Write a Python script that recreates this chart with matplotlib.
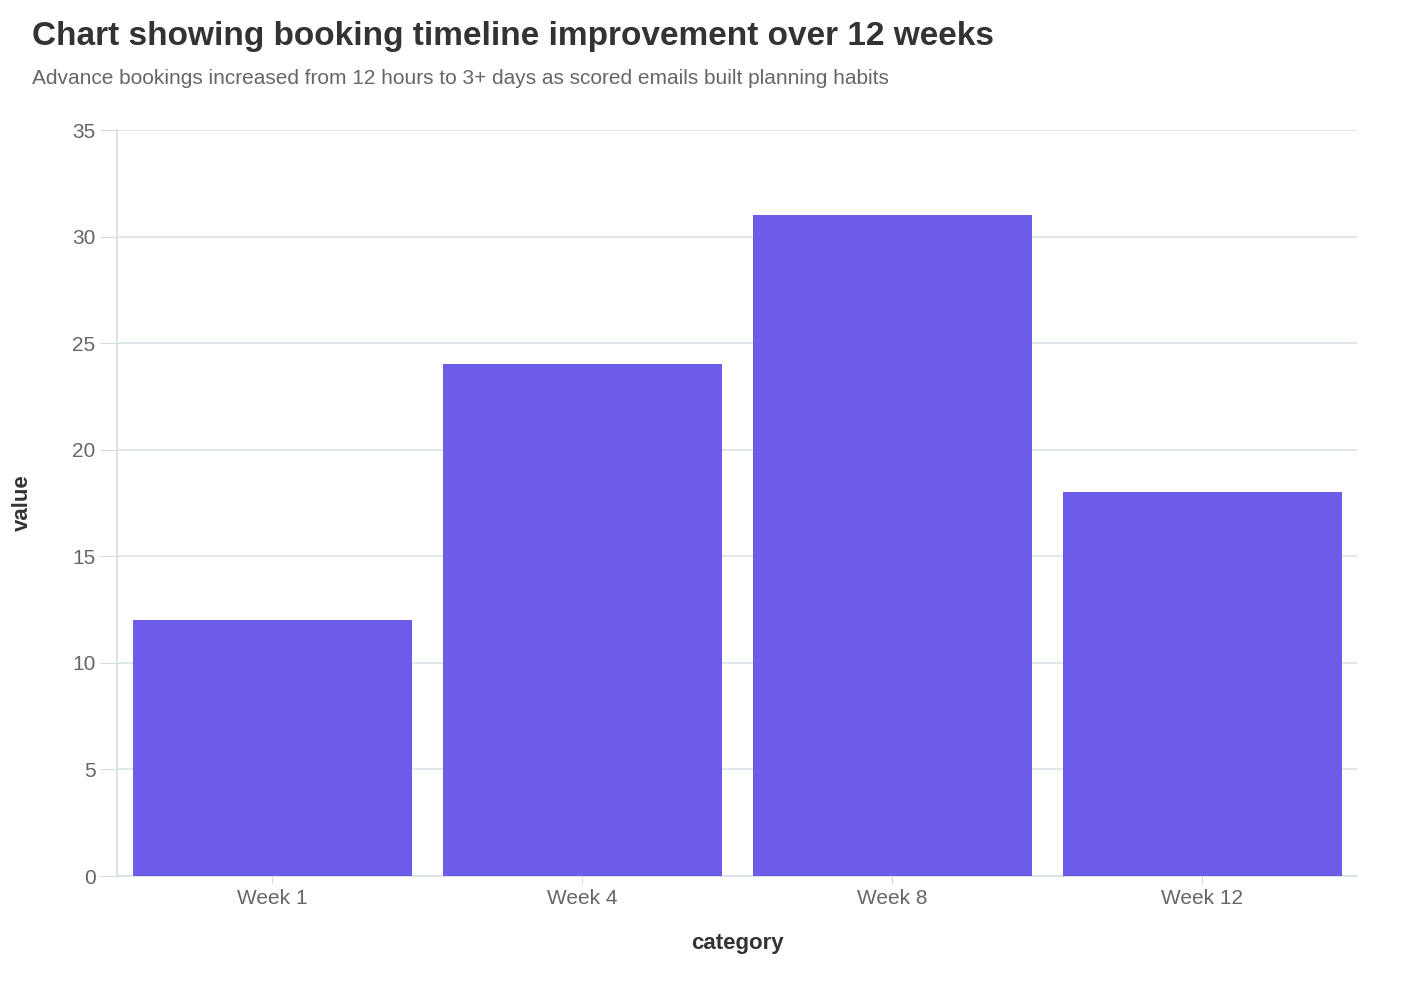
import matplotlib
matplotlib.use('Agg')
import matplotlib.pyplot as plt

plt.rcParams['font.family'] = ['Liberation Sans', 'DejaVu Sans']

categories = ['Week 1', 'Week 4', 'Week 8', 'Week 12']
values = [12, 24, 31, 18]
yticks = [0, 5, 10, 15, 20, 25, 30, 35]

fig = plt.figure(figsize=(14.06, 9.84), dpi=100)
ax = fig.add_axes([117 / 1406, 108 / 984, 1240 / 1406, 746 / 984])

ax.bar(range(len(categories)), values, width=0.9, color='#6c5ce7', zorder=3)
ax.set_xlim(-0.5, len(categories) - 0.5)
ax.set_ylim(0, 35)
ax.set_yticks(yticks)
ax.set_xticks(range(len(categories)))
ax.set_xticklabels(categories)

ax.grid(axis='y', color='#dde3e8', linewidth=1.2, zorder=0)
for s in ['top', 'right']:
    ax.spines[s].set_visible(False)
for s in ['left', 'bottom']:
    ax.spines[s].set_color('#d5dde3')
    ax.spines[s].set_linewidth(1.2)
ax.tick_params(axis='both', colors='#d5dde3', labelcolor='#666666', labelsize=15, length=6)
ax.tick_params(axis='y', length=12)

ax.set_xlabel('category', fontsize=16, fontweight='bold', color='#333333', labelpad=18)
ax.set_ylabel('value', fontsize=16, fontweight='bold', color='#333333', labelpad=28)

fig.text(32 / 1406, 1 - 37 / 984, 'Chart showing booking timeline improvement over 12 weeks',
         fontsize=24, fontweight='bold', color='#333333', va='center')
fig.text(32 / 1406, 1 - 79 / 984,
         'Advance bookings increased from 12 hours to 3+ days as scored emails built planning habits',
         fontsize=15, color='#666666', va='center')

fig.savefig('out.png', dpi=100)
